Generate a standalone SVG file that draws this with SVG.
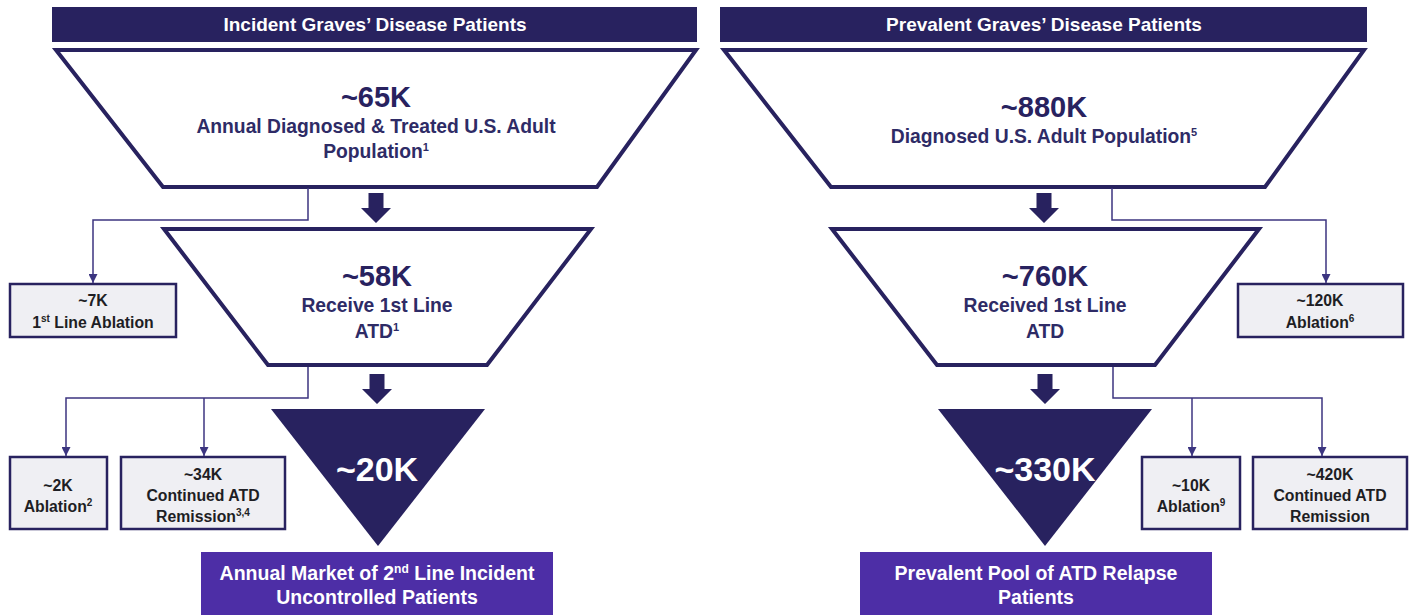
<svg xmlns="http://www.w3.org/2000/svg" width="1410" height="615" viewBox="0 0 1410 615">
  <style>
    .hdr { fill: #28225f; }
    .hdr-t { fill: #ffffff; font: bold 19px "Liberation Sans", Arial, sans-serif; text-anchor: middle; }
    .trap { fill: #ffffff; stroke: #28225f; stroke-width: 4; stroke-linejoin: miter; }
    .tri { fill: #28225f; }
    .big { fill: #28225f; font: bold 29px "Liberation Sans", Arial, sans-serif; text-anchor: middle; }
    .sub { fill: #2e2b66; font: bold 19.3px "Liberation Sans", Arial, sans-serif; text-anchor: middle; }
    .big-w { fill: #ffffff; font: bold 34px "Liberation Sans", Arial, sans-serif; text-anchor: middle; }
    .box { fill: #efeff3; stroke: #28225f; stroke-width: 2.5; }
    .box-t { fill: #1e1e24; font: bold 15.8px "Liberation Sans", Arial, sans-serif; text-anchor: middle; }
    .res { fill: #4d2ea6; }
    .res-t { fill: #ffffff; font: bold 19.5px "Liberation Sans", Arial, sans-serif; text-anchor: middle; }
    .flow { fill: #28225f; }
    .link { fill: none; stroke: #3c3580; stroke-width: 1.5; }
  </style>
  <defs>
    <marker id="tip" viewBox="0 0 10 10" refX="10" refY="5" markerWidth="9" markerHeight="9" markerUnits="userSpaceOnUse" orient="auto">
      <path d="M0,0 L10,5 L0,10 Z" fill="#3c3580"/>
    </marker>
    <!-- block arrow pointing down, tip at origin -->
    <path id="blk" d="M-7.5,-30 H7.5 V-15 H15 L0,0 L-15,-15 H-7.5 Z"/>
  </defs>

  <!-- ===== Incident column ===== -->
  <g id="hdr-incident">
    <rect class="hdr" x="52" y="7" width="645" height="35"/>
    <text class="hdr-t" x="375" y="31">Incident Graves’ Disease Patients</text>
  </g>
  <g id="inc-65k">
    <polygon class="trap" points="56,50 696,50 597,187 163,187"/>
    <text class="big" x="376" y="107">~65K</text>
    <text class="sub" x="376" y="133">Annual Diagnosed &amp; Treated U.S. Adult</text>
    <text class="sub" x="376" y="158">Population<tspan font-size="11" dy="-7">1</tspan></text>
  </g>
  <g id="inc-58k">
    <polygon class="trap" points="164,229 591,229 487,365 268,365"/>
    <text class="big" x="377" y="286">~58K</text>
    <text class="sub" x="377" y="312">Receive 1st Line</text>
    <text class="sub" x="377" y="338">ATD<tspan font-size="11" dy="-7">1</tspan></text>
  </g>
  <g id="inc-20k">
    <polygon class="tri" points="271,409 485,409 378,546"/>
    <text class="big-w" x="377" y="481">~20K</text>
  </g>
  <g id="inc-7k">
    <rect class="box" x="10" y="284" width="166" height="53"/>
    <text class="box-t" x="93" y="306">~7K</text>
    <text class="box-t" x="93" y="328">1<tspan font-size="10" dy="-6">st</tspan><tspan dy="6"> Line Ablation</tspan></text>
  </g>
  <g id="inc-2k">
    <rect class="box" x="10" y="457" width="97" height="72"/>
    <text class="box-t" x="58" y="491">~2K</text>
    <text class="box-t" x="58" y="512">Ablation<tspan font-size="10" dy="-6">2</tspan></text>
  </g>
  <g id="inc-34k">
    <rect class="box" x="121" y="457" width="164" height="72"/>
    <text class="box-t" x="203" y="480">~34K</text>
    <text class="box-t" x="203" y="501">Continued ATD</text>
    <text class="box-t" x="203" y="522">Remission<tspan font-size="10" dy="-6">3,4</tspan></text>
  </g>
  <g id="inc-market">
    <rect class="res" x="201" y="552" width="352" height="63"/>
    <text class="res-t" x="377" y="580">Annual Market of 2<tspan font-size="12" dy="-7">nd</tspan><tspan dy="7"> Line Incident</tspan></text>
    <text class="res-t" x="377" y="604">Uncontrolled Patients</text>
  </g>

  <!-- ===== Prevalent column ===== -->
  <g id="hdr-prevalent">
    <rect class="hdr" x="720" y="7" width="647" height="35"/>
    <text class="hdr-t" x="1044" y="31">Prevalent Graves’ Disease Patients</text>
  </g>
  <g id="prv-880k">
    <polygon class="trap" points="724,50 1364,50 1265,187 831,187"/>
    <text class="big" x="1044" y="117">~880K</text>
    <text class="sub" x="1044" y="143">Diagnosed U.S. Adult Population<tspan font-size="11" dy="-7">5</tspan></text>
  </g>
  <g id="prv-760k">
    <polygon class="trap" points="832,229 1259,229 1155,365 937,365"/>
    <text class="big" x="1045" y="286">~760K</text>
    <text class="sub" x="1045" y="312">Received 1st Line</text>
    <text class="sub" x="1045" y="338">ATD</text>
  </g>
  <g id="prv-330k">
    <polygon class="tri" points="938,409 1152,409 1045,546"/>
    <text class="big-w" x="1045" y="481">~330K</text>
  </g>
  <g id="prv-120k">
    <rect class="box" x="1238" y="284" width="165" height="53"/>
    <text class="box-t" x="1320" y="306">~120K</text>
    <text class="box-t" x="1320" y="328">Ablation<tspan font-size="10" dy="-6">6</tspan></text>
  </g>
  <g id="prv-10k">
    <rect class="box" x="1142" y="457" width="98" height="72"/>
    <text class="box-t" x="1191" y="491">~10K</text>
    <text class="box-t" x="1191" y="512">Ablation<tspan font-size="10" dy="-6">9</tspan></text>
  </g>
  <g id="prv-420k">
    <rect class="box" x="1253" y="457" width="154" height="72"/>
    <text class="box-t" x="1330" y="480">~420K</text>
    <text class="box-t" x="1330" y="501">Continued ATD</text>
    <text class="box-t" x="1330" y="522">Remission</text>
  </g>
  <g id="prv-pool">
    <rect class="res" x="860" y="552" width="352" height="63"/>
    <text class="res-t" x="1036" y="580">Prevalent Pool of ATD Relapse</text>
    <text class="res-t" x="1036" y="604">Patients</text>
  </g>

  <!-- ===== Connectors ===== -->
  <g id="connectors">
    <use href="#blk" class="flow" x="376" y="223"/>
    <use href="#blk" class="flow" x="377" y="404"/>
    <use href="#blk" class="flow" x="1044" y="223"/>
    <use href="#blk" class="flow" x="1045" y="404"/>

    <path class="link" d="M308,188 V220 H93 V283" marker-end="url(#tip)"/>
    <path class="link" d="M308,367 V398 H66 V456" marker-end="url(#tip)"/>
    <path class="link" d="M204,398 V456" marker-end="url(#tip)"/>

    <path class="link" d="M1112,188 V220 H1326 V283" marker-end="url(#tip)"/>
    <path class="link" d="M1113,367 V398 H1322 V456" marker-end="url(#tip)"/>
    <path class="link" d="M1192,398 V456" marker-end="url(#tip)"/>
  </g>
</svg>
